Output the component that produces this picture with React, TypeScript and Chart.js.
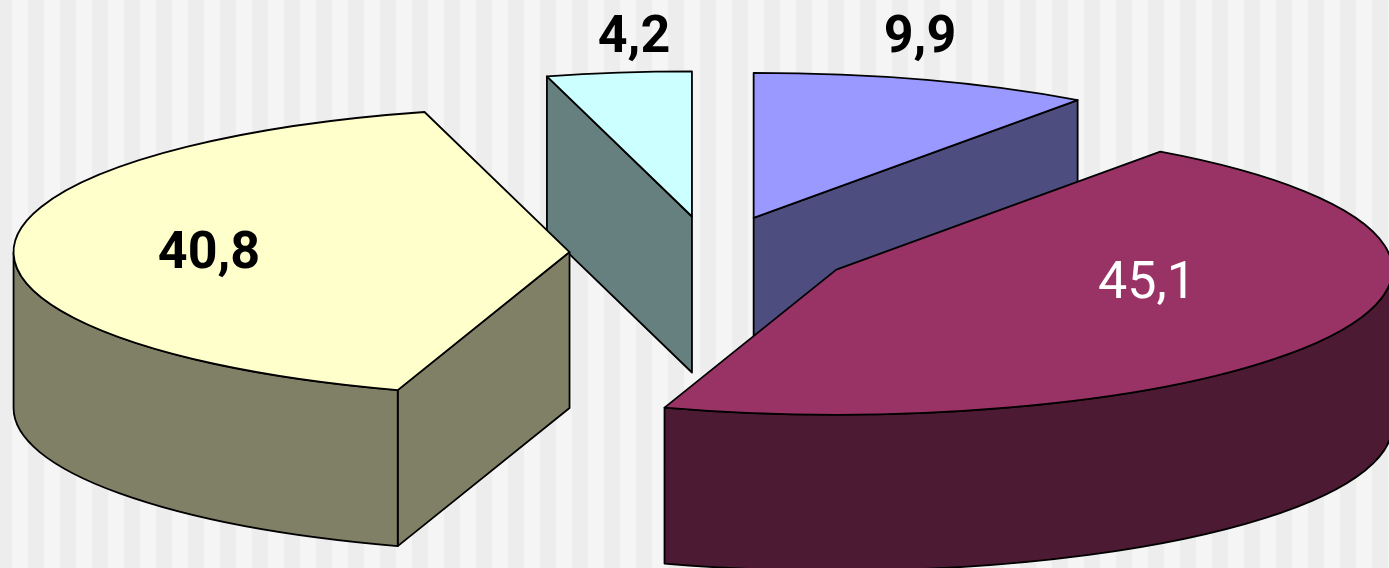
import React, { useEffect, useRef } from "react";
import { Chart, registerables } from "chart.js";

Chart.register(...registerables);

// Shares of each slice, clockwise from twelve o'clock.
const sliceLabels = ["Blue", "Maroon", "Yellow", "Cyan"];
const sliceValues = [9.9, 45.1, 40.8, 4.2];
const topColors = ["#9999ff", "#993366", "#ffffcc", "#ccffff"];
const wallColors = ["#4d4d80", "#4d1a33", "#808066", "#668080"];
const labelColors = ["#000000", "#ffffff", "#000000", "#000000"];
const labelWeights = ["bold", "normal", "bold", "bold"];

const RADIUS = 556;
const TILT = 0.261;
const DEPTH = 156;
const EXPLODE = 141;

// Value label anchors on the canvas, one per slice.
const labelAnchors = [
  { x: 920, y: 52 },
  { x: 1147, y: 298 },
  { x: 209, y: 268 },
  { x: 634, y: 52 },
];

const formatValue = (v: number) => v.toFixed(1).replace(".", ",");

// Replaces the flat arc drawing with tilted, exploded, extruded slices.
const tiltedPie = {
  id: "tiltedPie",
  beforeDatasetDraw(chart: any, args: any) {
    const { ctx } = chart;
    const arcs = args.meta.data.map((arc: any, index: number) => {
      const mid = (arc.startAngle + arc.endAngle) / 2;
      return {
        index,
        start: arc.startAngle,
        end: arc.endAngle,
        r: arc.outerRadius,
        cx: arc.x + Math.cos(mid) * EXPLODE,
        cy: arc.y + Math.sin(mid) * EXPLODE * TILT,
      };
    });
    arcs.sort((a: any, b: any) => a.cy - b.cy);

    ctx.save();
    ctx.lineWidth = 1.8;
    ctx.strokeStyle = "#000000";
    ctx.lineJoin = "round";

    const pointAt = (s: any, angle: number) => ({
      x: s.cx + Math.cos(angle) * s.r,
      y: s.cy + Math.sin(angle) * s.r * TILT,
    });

    const cutFace = (s: any, angle: number, color: string) => {
      const p = pointAt(s, angle);
      ctx.beginPath();
      ctx.moveTo(s.cx, s.cy);
      ctx.lineTo(p.x, p.y);
      ctx.lineTo(p.x, p.y + DEPTH);
      ctx.lineTo(s.cx, s.cy + DEPTH);
      ctx.closePath();
      ctx.fillStyle = color;
      ctx.fill();
      ctx.stroke();
    };

    for (const s of arcs) {
      const wall = wallColors[s.index];
      // Only faces turned toward the viewer are painted.
      if (-Math.cos(s.start) > 1e-6) cutFace(s, s.start, wall);
      if (Math.cos(s.end) > 1e-6) cutFace(s, s.end, wall);

      const from = Math.max(s.start, 0);
      const to = Math.min(s.end, Math.PI);
      if (to > from) {
        ctx.beginPath();
        ctx.ellipse(s.cx, s.cy, s.r, s.r * TILT, 0, from, to);
        ctx.ellipse(s.cx, s.cy + DEPTH, s.r, s.r * TILT, 0, to, from, true);
        ctx.closePath();
        ctx.fillStyle = wall;
        ctx.fill();
        ctx.stroke();
      }

      ctx.beginPath();
      ctx.moveTo(s.cx, s.cy);
      ctx.ellipse(s.cx, s.cy, s.r, s.r * TILT, 0, s.start, s.end);
      ctx.closePath();
      ctx.fillStyle = topColors[s.index];
      ctx.fill();
      ctx.stroke();
    }

    ctx.textAlign = "center";
    ctx.textBaseline = "alphabetic";
    sliceValues.forEach((value, i) => {
      ctx.font = `${labelWeights[i]} 52px Roboto, sans-serif`;
      ctx.fillStyle = labelColors[i];
      ctx.fillText(formatValue(value), labelAnchors[i].x, labelAnchors[i].y);
    });
    ctx.restore();
    return false;
  },
};

export default function App() {
  const canvasRef = useRef<HTMLCanvasElement | null>(null);

  useEffect(() => {
    document.body.style.margin = "0";
    const chart = new Chart(canvasRef.current as HTMLCanvasElement, {
      type: "pie",
      data: {
        labels: sliceLabels,
        datasets: [{ data: sliceValues, backgroundColor: topColors, borderColor: "#000000" }],
      },
      options: {
        responsive: false,
        animation: false,
        radius: RADIUS,
        layout: { padding: { left: 32, bottom: 62 } },
        plugins: { legend: { display: false }, tooltip: { enabled: false } },
      },
      plugins: [tiltedPie],
    } as any);
    return () => chart.destroy();
  }, []);

  return (
    <div
      style={{
        width: 1389,
        height: 568,
        overflow: "hidden",
        backgroundImage:
          "linear-gradient(90deg, #ededed 0 12px, #f5f5f5 12px 28px, #ededed 28px 32px)",
        backgroundSize: "32px 100%",
      }}
    >
      <canvas ref={canvasRef} width={1389} height={568} style={{ display: "block" }} />
    </div>
  );
}
